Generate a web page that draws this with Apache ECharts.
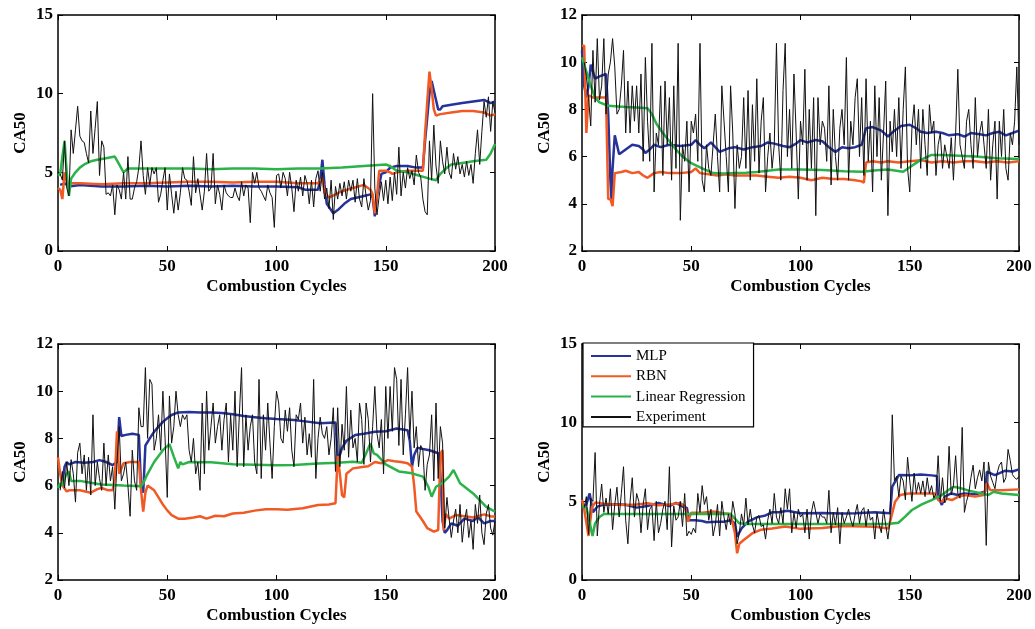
<!DOCTYPE html>
<html>
<head>
<meta charset="utf-8">
<script src="https://cdn.jsdelivr.net/npm/echarts@6/dist/echarts.min.js"></script>
<style>
  html, body { margin: 0; background: #fff; }
  #chart { width: 1035px; height: 629px; }
</style>
</head>
<body>
<div id="chart"></div>
<script>
// x ticks, shared by every panel
const xTicks = [0, 50, 100, 150, 200]
// y ranges per panel: [min, max, interval]
const yRange1 = [0, 15, 5]
const yRange2 = [2, 12, 2]
const yRange3 = [2, 12, 2]
const yRange4 = [0, 15, 5]

// ---- panel 1 (top left) ----
const mlp1 = [[1,4.2],[3,4.3],[5,4.1],[10,4.2],[20,4.1],[30,4.1],[40,4.15],[50,4.1],[60,4.15],[70,4.1],[80,4.15],[90,4.1],[100,4.1],[110,4.05],[113,3.9],[119,3.9],[120,4.5],[121,5.8],[122,4.2],[123,3.0],[126,2.4],[128,2.6],[131,3.0],[134,3.3],[137,3.4],[140,3.5],[143,3.6],[144,3.4],[145,2.2],[146,3.5],[148,4.9],[150,5.0],[152,5.3],[155,5.4],[160,5.4],[164,5.3],[167,5.3],[168,7.0],[169,8.5],[170,10.0],[171,10.8],[172,10.2],[173,9.6],[174,9.0],[175,9.0],[176,9.2],[180,9.3],[185,9.4],[190,9.5],[195,9.6],[198,9.4],[200,9.5]]
const rbn1 = [[0,4.0],[1,3.9],[2,3.3],[3,5.0],[4,4.4],[5,4.3],[10,4.3],[20,4.25],[30,4.3],[40,4.3],[50,4.35],[60,4.4],[70,4.4],[80,4.35],[90,4.4],[100,4.4],[110,4.3],[119,4.3],[120,4.5],[121,4.6],[122,3.7],[124,3.4],[127,3.6],[130,3.8],[135,4.0],[140,4.2],[143,3.9],[144,3.6],[145,2.4],[146,3.5],[147,5.1],[150,5.1],[152,5.0],[153,4.9],[155,5.0],[160,5.1],[165,5.1],[167,5.1],[168,7.5],[169,9.5],[170,11.4],[171,10.3],[172,9.0],[173,8.6],[175,8.7],[180,8.8],[185,8.9],[190,8.9],[195,8.8],[198,8.6],[200,8.7]]
const lr1 = [[0,4.8],[1,4.9],[2,6.0],[3,7.0],[4,5.0],[5,3.5],[6,4.6],[8,5.0],[10,5.3],[12,5.5],[15,5.7],[18,5.8],[22,5.9],[26,6.0],[28,5.5],[30,5.0],[32,5.25],[40,5.25],[50,5.25],[60,5.25],[70,5.2],[80,5.25],[90,5.25],[100,5.2],[110,5.25],[120,5.25],[130,5.3],[140,5.4],[145,5.45],[150,5.5],[152,5.4],[155,5.1],[160,5.0],[165,4.8],[170,4.6],[173,4.5],[175,4.9],[178,5.3],[180,5.5],[185,5.6],[190,5.7],[196,5.8],[198,6.2],[200,6.8]]
const exp1 = [
  4.9, 4.5, 7.0, 4.0, 3.5, 7.7, 6.2, 7.7, 9.2, 7.3,
  7.0, 6.9, 6.2, 5.6, 8.9, 6.2, 7.8, 9.5, 4.8, 7.0,
  6.6, 3.6, 3.7, 3.5, 4.2, 2.3, 4.2, 3.9, 3.3, 5.0,
  3.3, 6.0, 3.3, 3.3, 4.0, 4.4, 5.3, 7.0, 4.8, 3.6,
  5.3, 4.2, 5.3, 4.9, 5.3, 3.1, 3.6, 4.5, 5.3, 2.6,
  4.9, 3.6, 2.4, 3.8, 2.6, 3.7, 5.3, 4.6, 4.5, 3.8,
  2.9, 6.0, 3.7, 4.6, 3.6, 2.6, 3.8, 6.2, 3.8, 4.0,
  6.2, 3.0, 4.2, 3.6, 2.6, 4.2, 3.7, 3.5, 3.4, 3.4,
  4.0, 3.5, 3.2, 4.4, 3.5, 4.2, 4.0, 1.8, 5.0, 4.3,
  5.0, 4.0, 3.8, 3.5, 3.2, 4.2, 3.7, 3.4, 1.5, 4.8,
  4.9, 4.0, 5.0, 4.6, 3.5, 5.0, 4.0, 2.5, 4.5, 3.8,
  4.7, 3.5, 4.8, 4.3, 3.0, 4.5, 2.8, 4.6, 5.1, 3.8,
  5.0, 3.3, 4.0, 2.7, 4.5, 2.0, 4.1, 3.3, 4.3, 3.5,
  4.4, 3.3, 4.5, 3.8, 4.5, 3.1, 4.6, 3.3, 2.8, 4.6,
  3.5, 2.6, 3.2, 10.0, 4.0, 2.3, 3.5, 4.4, 3.2, 4.5,
  3.0, 4.7, 3.2, 5.0, 3.6, 6.6, 3.5, 5.0, 4.0, 5.3,
  4.6, 5.1, 4.2, 6.1, 5.0, 4.7, 3.3, 2.5, 2.3, 7.0,
  4.5, 8.0, 5.4, 4.3, 7.0, 5.7, 4.9, 6.6, 5.0, 4.6,
  6.2, 5.2, 6.0, 4.9, 5.5, 4.7, 5.7, 4.8, 5.5, 4.3,
  6.2, 7.7, 5.5, 7.6, 9.5, 8.5, 9.8, 7.6, 9.5, 8.8
]

// ---- panel 2 (top right) ----
const mlp2 = [[0,10.5],[1,9.0],[2,8.5],[3,9.0],[4,9.9],[5,9.6],[6,9.3],[8,9.4],[11,9.5],[12,7.8],[13,5.0],[13.5,4.2],[14,5.5],[15,6.9],[16,6.5],[17,6.1],[20,6.3],[23,6.5],[26,6.45],[28,6.3],[29,6.15],[31,6.3],[33,6.5],[36,6.4],[40,6.5],[45,6.45],[50,6.5],[52,6.7],[54,6.5],[56,6.35],[59,6.6],[61,6.4],[63,6.2],[67,6.35],[70,6.4],[74,6.3],[78,6.4],[82,6.45],[85,6.6],[88,6.55],[92,6.45],[95,6.4],[98,6.55],[100,6.7],[103,6.6],[107,6.7],[110,6.65],[113,6.4],[116,6.2],[119,6.4],[122,6.35],[125,6.4],[128,6.5],[130,7.2],[133,7.25],[137,7.1],[140,6.85],[143,7.1],[146,7.3],[150,7.35],[153,7.2],[155,7.05],[158,7.0],[162,7.05],[165,7.0],[168,6.9],[172,6.95],[175,6.85],[178,7.0],[182,6.95],[185,6.9],[188,7.0],[191,7.05],[194,6.9],[197,7.0],[200,7.1]]
const rbn2 = [[0,10.7],[1,10.7],[2,7.0],[3,8.6],[5,8.5],[8,8.5],[11,8.5],[12,4.2],[13,4.2],[14,3.9],[15,5.3],[18,5.35],[20,5.4],[23,5.3],[26,5.35],[28,5.2],[30,5.1],[33,5.3],[36,5.35],[40,5.3],[45,5.3],[50,5.35],[52,5.5],[54,5.3],[58,5.25],[62,5.2],[66,5.25],[70,5.2],[75,5.2],[80,5.2],[85,5.15],[90,5.1],[95,5.15],[100,5.1],[105,5.0],[110,5.1],[115,5.05],[120,5.05],[125,5.0],[128,4.95],[129,4.9],[130,5.75],[133,5.8],[137,5.75],[140,5.8],[145,5.75],[150,5.8],[155,5.85],[160,5.75],[165,5.8],[170,5.75],[175,5.8],[180,5.8],[185,5.75],[190,5.8],[195,5.75],[200,5.8]]
const lr2 = [[0,10.2],[2,9.6],[4,9.0],[6,8.5],[8,8.3],[12,8.15],[20,8.1],[25,8.08],[30,8.05],[32,7.8],[34,7.4],[37,7.0],[40,6.65],[43,6.3],[46,6.0],[50,5.72],[55,5.5],[60,5.3],[65,5.28],[70,5.3],[75,5.32],[80,5.35],[90,5.45],[100,5.45],[110,5.43],[120,5.38],[128,5.36],[135,5.42],[140,5.45],[147,5.36],[150,5.55],[155,5.86],[160,6.07],[165,6.07],[170,6.05],[180,6.0],[190,5.93],[200,5.9]]
const exp2 = [
  10.0, 9.4, 8.5, 7.3, 10.5, 8.3, 11.0, 8.4, 9.0, 11.0,
  7.8, 9.5, 10.0, 11.0, 9.8, 7.8, 8.0, 9.0, 10.5, 7.0,
  9.2, 7.0, 9.0, 7.5, 9.0, 7.0, 9.5, 5.8, 10.2, 7.5,
  5.8, 10.8, 4.5, 7.0, 6.5, 9.0, 5.2, 9.2, 6.5, 8.5,
  5.0, 9.0, 5.5, 10.8, 3.3, 6.5, 5.8, 7.5, 4.5, 7.5,
  7.0, 7.8, 5.8, 10.8, 5.0, 4.5, 6.5, 5.5, 5.2, 6.5,
  7.8, 6.0, 4.5, 9.0, 7.5, 6.0, 4.5, 9.0, 7.0, 3.8,
  6.5, 5.5, 6.0, 8.5, 5.5, 8.8, 5.0, 8.2, 5.8, 9.3,
  5.3, 7.5, 8.5, 4.5, 6.0, 7.0, 5.5, 6.5, 10.8, 6.5,
  5.0, 8.8, 10.8, 6.0, 8.0, 5.5, 9.5, 7.0, 4.2, 7.5,
  6.5, 9.7, 5.0, 8.0, 5.5, 8.5, 3.5, 8.5, 6.5, 7.5,
  7.2, 5.8, 9.0, 4.8, 8.0, 6.0, 5.0, 7.2, 8.0, 6.5,
  10.2, 5.0, 7.5, 6.5, 8.5, 9.3, 6.0, 8.5, 5.2, 9.3,
  5.8, 7.5, 4.5, 9.0, 6.0, 8.5, 5.0, 7.0, 9.2, 3.5,
  7.5, 6.2, 8.0, 6.0, 8.5, 5.5, 8.0, 9.8, 5.5, 4.5,
  7.2, 8.2, 6.5, 8.0, 5.5, 8.0, 6.5, 5.2, 8.2, 7.0,
  7.5, 5.2, 6.5, 7.0, 5.5, 6.5, 6.0, 5.5, 6.8, 5.0,
  7.0, 9.7, 6.5, 6.0, 5.5, 7.5, 8.0, 6.5, 5.5, 8.5,
  6.0, 7.0, 7.5, 6.5, 5.5, 8.0, 5.0, 6.5, 7.5, 4.2,
  7.5, 6.0, 8.0, 5.5, 5.0, 7.0, 6.5, 7.5, 9.8, 6.5
]

// ---- panel 3 (bottom left) ----
const mlp3 = [[0,5.9],[1,6.0],[2,6.1],[3,6.8],[4,7.0],[5,6.9],[8,7.0],[12,6.97],[16,7.0],[19,7.08],[22,7.0],[25,6.87],[27,7.0],[28,8.9],[29,8.1],[31,8.15],[34,8.2],[37,8.15],[38,6.0],[39,5.7],[40,7.7],[42,8.0],[44,8.28],[46,8.5],[48,8.7],[50,8.85],[52,8.99],[55,9.1],[60,9.12],[65,9.1],[70,9.1],[75,9.08],[80,9.02],[85,8.95],[90,8.9],[95,8.85],[100,8.82],[108,8.78],[115,8.7],[120,8.64],[127,8.67],[128,7.25],[129,7.3],[130,7.6],[132,7.9],[136,8.14],[140,8.2],[145,8.28],[150,8.3],[155,8.42],[160,8.35],[161,7.9],[162,6.8],[163,7.3],[164.5,7.6],[167,7.55],[170,7.5],[174,7.37],[175,6.5],[176,4.5],[177,4.0],[178,4.1],[180,4.4],[183,4.3],[186,4.6],[190,4.5],[192,4.68],[195,4.4],[198,4.5],[200,4.5]]
const rbn3 = [[0,7.2],[1,6.5],[2,6.0],[4,5.75],[5,5.8],[10,5.8],[15,5.7],[18,5.85],[20,5.9],[23,5.8],[25,5.8],[26,6.3],[27,8.3],[28,6.5],[30,6.95],[33,7.0],[37,7.0],[38,5.8],[39,4.9],[40,5.7],[41,6.0],[44,5.8],[46,5.5],[48,5.2],[50,4.95],[52,4.75],[55,4.6],[58,4.6],[62,4.65],[65,4.7],[68,4.6],[72,4.72],[76,4.7],[80,4.82],[85,4.85],[90,4.94],[95,5.0],[100,5.0],[105,4.98],[112,5.04],[119,5.18],[124,5.2],[127,5.25],[128,7.25],[129,6.5],[130,5.6],[131,5.5],[132,6.5],[135,6.73],[140,6.8],[142,6.82],[145,7.0],[148,6.95],[151,7.08],[154,7.03],[157,7.0],[160,6.95],[162,6.8],[163,6.0],[164,4.9],[167,4.5],[169,4.2],[172,4.05],[174,4.12],[175,7.35],[176,7.5],[176.5,4.1],[177.5,4.8],[179,4.6],[182,4.75],[186,4.7],[190,4.65],[195,4.78],[198,4.7],[200,4.68]]
const lr3 = [[0,5.9],[1,6.1],[2,6.0],[3,6.3],[4,6.5],[5,6.6],[6,6.2],[10,6.2],[15,6.12],[20,6.05],[30,6.0],[38,5.97],[39,6.1],[41,6.5],[44,7.0],[48,7.5],[51,7.76],[53,7.23],[55,6.73],[56,7.0],[57,6.9],[60,7.0],[70,6.99],[80,6.9],[90,6.88],[100,6.86],[108,6.87],[119,6.94],[128,6.97],[135,7.01],[139,6.97],[140.7,7.3],[143,7.79],[144.5,7.37],[146,7.3],[150,6.9],[156,6.6],[162,6.52],[167,6.38],[169.5,5.95],[171,5.53],[173,5.95],[175.8,6.1],[179,6.38],[181,6.66],[184,6.1],[190,5.67],[196,5.1],[200,4.9]]
const exp3 = [
  5.8, 6.6, 5.9, 7.0, 6.0, 7.1, 6.5, 5.3, 7.4, 7.8,
  6.5, 7.3, 5.8, 7.2, 5.6, 9.0, 6.0, 7.0, 6.3, 5.8,
  7.8, 6.0, 7.3, 6.2, 6.8, 5.0, 7.0, 8.5, 6.2, 6.5,
  7.0, 6.0, 4.7, 7.5, 6.2, 5.8, 9.3, 8.5, 8.5, 11.0,
  8.0, 10.5, 10.3, 7.5, 8.0, 9.0, 7.5, 10.0, 8.0, 5.5,
  9.8, 7.8, 8.5, 10.0, 9.0, 8.5, 9.0, 8.8, 9.0, 7.5,
  7.0, 8.0, 6.5, 7.0, 5.8, 9.5, 6.5, 10.0, 7.5, 8.5,
  9.5, 7.8, 8.5, 9.0, 7.5, 8.8, 9.5, 7.0, 9.0, 7.5,
  10.0, 6.8, 9.0, 11.0, 6.8, 9.0, 7.5, 8.5, 9.0, 7.0,
  6.5, 10.5, 6.3, 9.0, 7.5, 9.5, 7.8, 6.3, 8.5, 10.0,
  9.5, 8.0, 7.8, 9.2, 8.3, 9.3, 7.5, 6.8, 9.0, 8.8,
  9.5, 7.8, 8.9, 7.3, 8.2, 7.2, 10.5, 6.3, 8.0, 8.9,
  8.2, 8.0, 8.5, 7.3, 8.0, 9.3, 6.6, 9.3, 6.8, 8.6,
  7.5, 10.2, 7.2, 9.2, 7.6, 8.0, 7.0, 9.5, 8.8, 6.9,
  9.5, 8.8, 7.0, 8.5, 10.2, 8.2, 7.6, 8.8, 6.5, 10.2,
  8.0, 10.2, 8.3, 11.0, 10.5, 7.7, 10.5, 7.3, 9.0, 11.0,
  8.0, 10.0, 7.6, 8.5, 6.8, 7.7, 7.5, 5.8, 6.9, 7.3,
  9.0, 6.2, 9.5, 6.3, 8.5, 7.8, 4.2, 5.5, 4.6, 3.8,
  4.5, 5.0, 4.0, 5.2, 3.6, 4.5, 5.0, 3.8, 4.5, 3.3,
  5.2, 4.4, 5.6, 4.0, 3.5, 4.8, 5.2, 4.2, 3.9, 4.5
]

// ---- panel 4 (bottom right) ----
const mlp4 = [[0,5.0],[1,4.6],[2,4.8],[3.5,5.5],[5,4.3],[7,4.66],[10,4.8],[15,4.82],[20,4.78],[25,4.6],[30,4.7],[35,4.9],[40,4.7],[43,4.9],[47,4.6],[48,4.6],[49,3.8],[52,3.8],[55,3.75],[57,3.67],[62,3.7],[65,3.7],[68,3.8],[70,3.6],[71,2.75],[73,3.28],[76,3.71],[80,3.98],[84,4.1],[87,4.3],[90,4.3],[94,4.4],[100,4.24],[110,4.26],[119,4.22],[125,4.25],[134,4.3],[141,4.24],[142,5.93],[145,6.67],[150,6.65],[155,6.7],[160,6.65],[162.4,6.61],[163,5.3],[164.7,4.77],[166,5.3],[169,5.5],[172,5.4],[175,5.5],[180,5.45],[184.5,5.61],[185.3,6.88],[189,6.67],[193.7,6.95],[197,6.9],[200,7.03]]
const rbn4 = [[0,5.1],[1,4.5],[3,2.8],[4.5,4.6],[6,4.92],[10,4.85],[15,4.8],[20,4.77],[25,4.8],[30,4.88],[35,4.75],[40,4.8],[45,4.9],[47,4.7],[48.5,3.71],[50,4.28],[55,4.28],[60,4.35],[65,4.24],[68,4.2],[70,2.97],[71,1.7],[72,2.3],[74,2.54],[78,2.97],[82,3.2],[87,3.28],[93,3.4],[100,3.25],[110,3.3],[119,3.43],[134,3.39],[140.2,3.28],[141,3.71],[143.3,4.98],[145.6,5.4],[149.4,5.5],[157,5.5],[161.6,5.5],[163,5.08],[164.7,4.98],[166,5.19],[169.3,5.08],[172.3,5.3],[175.4,5.4],[180,5.3],[183.8,5.4],[185.3,6.14],[186.8,5.72],[192.2,5.7],[200,5.76]]
const lr4 = [[0,4.7],[2,4.6],[3,4.0],[4.8,2.8],[6,3.6],[8,4.0],[10,4.19],[30,4.2],[50,4.19],[67,4.2],[68,4.19],[70,3.9],[72,3.6],[75,3.56],[100,3.56],[120,3.56],[140,3.56],[144.8,3.64],[147.9,4.03],[151,4.45],[155.5,4.81],[160,5.08],[164.7,5.4],[167.7,5.72],[170,5.93],[173,5.85],[177,5.68],[183,5.5],[186,5.4],[188.4,5.61],[192,5.5],[200,5.4]]
const exp4 = [
  4.6, 5.3, 2.9, 5.2, 5.0, 8.1, 2.8, 4.8, 6.1, 4.3,
  5.2, 4.2, 5.8, 3.2, 4.8, 5.9, 4.0, 5.5, 7.2, 3.8,
  2.3, 5.0, 6.5, 4.0, 5.5, 5.0, 3.0, 4.8, 5.8, 3.2,
  4.5, 4.7, 2.5, 5.0, 3.0, 3.6, 4.5, 5.0, 3.2, 7.2,
  2.1, 4.7, 3.8, 4.0, 5.0, 3.4, 5.5, 2.8, 3.1, 2.9,
  3.3, 3.0, 5.5, 4.3, 6.0, 4.8, 5.3, 3.8, 4.5, 2.8,
  3.5, 4.8, 2.8, 5.0, 4.0, 3.2, 4.2, 3.5, 5.0, 4.2,
  2.3, 3.0, 4.2, 3.5, 5.2, 3.5, 4.5, 3.5, 3.0, 4.0,
  4.1, 3.4, 3.5, 2.6, 3.8, 4.5, 3.6, 5.5, 4.0, 3.6,
  4.6, 3.6, 5.8, 4.5, 5.8, 3.0, 4.3, 3.3, 4.5, 4.0,
  4.2, 3.0, 4.5, 2.6, 4.3, 5.0, 4.3, 3.6, 4.2, 4.0,
  4.0, 3.6, 5.7, 3.0, 4.3, 3.5, 4.6, 2.3, 4.3, 3.6,
  4.0, 4.5, 3.8, 3.4, 4.2, 4.8, 3.6, 4.4, 4.6, 3.4,
  4.5, 3.8, 4.0, 2.6, 4.3, 3.5, 3.0, 4.5, 3.5, 2.6,
  3.8, 10.5, 6.3, 6.6, 5.3, 6.6, 6.3, 5.1, 7.8, 6.3,
  5.0, 6.8, 5.5, 6.2, 5.5, 6.3, 5.3, 6.5, 5.5, 6.0,
  5.2, 5.5, 7.9, 5.0, 6.5, 4.9, 5.2, 8.5, 5.4, 6.0,
  7.9, 5.5, 5.2, 9.7, 4.3, 5.0, 5.5, 6.5, 7.3, 5.8,
  6.5, 7.0, 6.3, 7.5, 2.2, 7.5, 6.6, 6.2, 5.8, 6.8,
  7.3, 7.5, 6.2, 6.5, 8.3, 7.6, 6.7, 6.5, 6.4, 6.6
]

const seriesNames = ['MLP', 'RBN', 'Linear Regression', 'Experiment']

const FONT = 'Liberation Serif'
const COLORS = ['#26339a', '#f15a24', '#2bb34a', '#111111']
const WIDTHS = [2.5, 2.5, 2.5, 1]

// plot boxes, in pixels
const grids = [
  { left: 58, top: 15, width: 437, height: 236 },
  { left: 582, top: 15, width: 437, height: 236 },
  { left: 58, top: 344, width: 437, height: 236 },
  { left: 582, top: 344, width: 437, height: 236 }
]

const panels = [
  { lines: [mlp1, rbn1, lr1], exp: exp1, y: yRange1 },
  { lines: [mlp2, rbn2, lr2], exp: exp2, y: yRange2 },
  { lines: [mlp3, rbn3, lr3], exp: exp3, y: yRange3 },
  { lines: [mlp4, rbn4, lr4], exp: exp4, y: yRange4 }
]

const axisLine = { show: true, onZero: false, lineStyle: { color: '#000', width: 1.5 } }
const tick = { show: true, inside: true, length: 5, lineStyle: { color: '#000', width: 1 } }
const label = { fontFamily: FONT, fontWeight: 'bold', fontSize: 17, color: '#000' }

const xAxis = []
const yAxis = []
const series = []

panels.forEach((p, i) => {
  const xBase = { type: 'value', gridIndex: i, min: xTicks[0], max: xTicks[xTicks.length - 1], interval: 50, splitLine: { show: false } }
  const yBase = { type: 'value', gridIndex: i, min: p.y[0], max: p.y[1], interval: p.y[2], splitLine: { show: false } }

  xAxis.push({
    ...xBase, position: 'bottom', axisLine, axisTick: tick,
    axisLabel: { ...label, margin: 7 },
    name: 'Combustion Cycles', nameLocation: 'middle', nameGap: 27,
    nameTextStyle: { ...label }
  })
  xAxis.push({ ...xBase, position: 'top', axisLine, axisTick: tick, axisLabel: { show: false } })

  yAxis.push({
    ...yBase, position: 'left', axisLine, axisTick: tick,
    axisLabel: { ...label, margin: 5 },
    name: 'CA50', nameLocation: 'middle', nameGap: 29,
    nameTextStyle: { ...label }
  })
  yAxis.push({ ...yBase, position: 'right', axisLine, axisTick: tick, axisLabel: { show: false } })

  const data = [...p.lines, p.exp.map((v, k) => [k + 1, v])]
  data.forEach((d, s) => {
    series.push({
      name: seriesNames[s],
      type: 'line',
      xAxisIndex: i * 2,
      yAxisIndex: i * 2,
      data: d,
      symbol: 'none',
      silent: true,
      lineStyle: { color: COLORS[s], width: WIDTHS[s] },
      itemStyle: { color: COLORS[s] }
    })
  })
})

const chart = echarts.init(document.getElementById('chart'))
chart.setOption({
  animation: false,
  backgroundColor: '#fff',
  grid: grids,
  xAxis,
  yAxis,
  legend: {
    data: seriesNames,
    orient: 'vertical',
    left: 583,
    top: 343,
    itemWidth: 40,
    itemHeight: 14,
    itemGap: 5.3,
    padding: [5.5, 8, 2.5, 7],
    backgroundColor: '#fff',
    borderColor: '#000',
    borderWidth: 1.2,
    borderRadius: 0,
    selectedMode: false,
    // hide the symbol drawn in the middle of each legend line
    itemStyle: { color: 'rgba(0,0,0,0)', borderWidth: 0, opacity: 0 },
    textStyle: { fontFamily: FONT, fontSize: 15, color: '#000' }
  },
  series
})
</script>
</body>
</html>
